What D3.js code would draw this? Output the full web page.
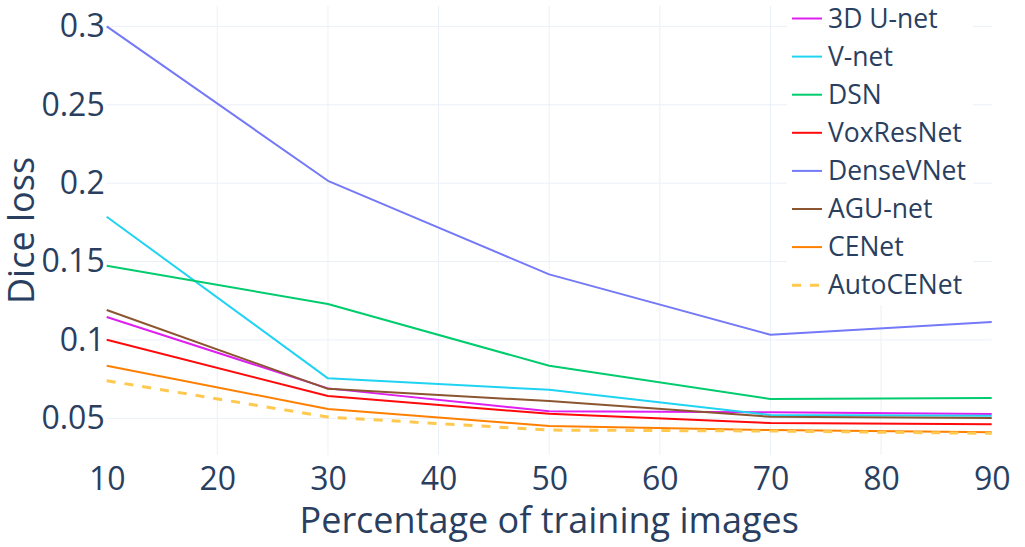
<!DOCTYPE html>
<html>
<head>
<meta charset="utf-8">
<script src="https://cdn.jsdelivr.net/npm/d3@7"></script>
<style>
  html, body { margin: 0; padding: 0; background: #fff; }
  svg { display: block; }
  text { font-family: "Open Sans", sans-serif; fill: #2a3f5f; }
</style>
</head>
<body>
<svg id="chart" width="1025" height="547"></svg>
<script>
// ---- data ----
const xValues = [10, 30, 50, 70, 90];
const seriesNames = ["3D U-net", "V-net", "DSN", "VoxResNet", "DenseVNet", "AGU-net", "CENet", "AutoCENet"];
const unet3d    = [0.1146, 0.0691, 0.0545, 0.0538, 0.0527];
const vnet      = [0.1786, 0.0755, 0.0682, 0.0521, 0.0517];
const dsn       = [0.1473, 0.1229, 0.0835, 0.0623, 0.0630];
const voxresnet = [0.1001, 0.0642, 0.0529, 0.0470, 0.0462];
const densevnet = [0.3000, 0.2015, 0.1418, 0.1033, 0.1114];
const agunet    = [0.1191, 0.0688, 0.0610, 0.0510, 0.0502];
const cenet     = [0.0835, 0.0559, 0.0451, 0.0425, 0.0411];
const autocenet = [0.0740, 0.0508, 0.0425, 0.0419, 0.0404];
const xTicks = [10, 20, 30, 40, 50, 60, 70, 80, 90];
const yTicks = [0.05, 0.1, 0.15, 0.2, 0.25, 0.3];
const yTickLabels = ["0.05", "0.1", "0.15", "0.2", "0.25", "0.3"];

// ---- styles ----
const allSeries = [unet3d, vnet, dsn, voxresnet, densevnet, agunet, cenet, autocenet];
const colors = ["#df1ff0", "#1fd3f2", "#00cc6e", "#ff0a0a", "#7479f7", "#8b5530", "#ff8000", "#ffc84f"];
const widths = [2, 2, 2, 2, 2, 2, 2, 3];
const dashes = [null, null, null, null, null, null, null, "9,9"];

const svg = d3.select("#chart");
const L = 106.7, R = 991.7, T = 6, B = 455;

const x = d3.scaleLinear().domain([10, 90]).range([L, R]);
const y = d3.scaleLinear().domain([0.0266, 0.313]).range([B, T]);

// gridlines
const grid = svg.append("g");
grid.selectAll("line.gx").data(xTicks.filter(d => d > 10 && d < 90)).enter()
  .append("line")
  .attr("x1", d => x(d)).attr("x2", d => x(d))
  .attr("y1", T).attr("y2", B)
  .attr("stroke", "#ebf0f8").attr("stroke-width", 1);
grid.selectAll("line.gy").data(yTicks).enter()
  .append("line")
  .attr("x1", L).attr("x2", R)
  .attr("y1", d => y(d)).attr("y2", d => y(d))
  .attr("stroke", "#ebf0f8").attr("stroke-width", 1);

// axes (tick labels only)
const xAxis = d3.axisBottom(x).tickValues(xTicks).tickSize(0).tickPadding(12).tickFormat(d3.format("d"));
const gx = svg.append("g").attr("transform", `translate(0,${B})`).call(xAxis);
gx.select(".domain").remove();
gx.selectAll("text").style("font-size", "32px").style("fill", "#2a3f5f").style("font-family", "'Open Sans', sans-serif");

const yAxis = d3.axisLeft(y).tickValues(yTicks).tickSize(0).tickPadding(2)
  .tickFormat((d, i) => yTickLabels[i]);
const gy = svg.append("g").attr("transform", `translate(${L},0)`).call(yAxis);
gy.select(".domain").remove();
gy.selectAll("text").style("font-size", "32px").style("fill", "#2a3f5f").style("font-family", "'Open Sans', sans-serif");

// axis titles
svg.append("text")
  .attr("x", (L + R) / 2).attr("y", 533)
  .attr("text-anchor", "middle")
  .style("font-size", "36px")
  .text("Percentage of training images");
svg.append("text")
  .attr("transform", `translate(34,${(T + B) / 2}) rotate(-90)`)
  .attr("text-anchor", "middle")
  .style("font-size", "36px")
  .text("Dice loss");

// lines
const line = d3.line().x((d, i) => x(xValues[i])).y(d => y(d));
const plot = svg.append("g");
allSeries.forEach((s, k) => {
  plot.append("path")
    .datum(s)
    .attr("d", line)
    .attr("fill", "none")
    .attr("stroke", colors[k])
    .attr("stroke-width", widths[k])
    .attr("stroke-dasharray", dashes[k])
    .attr("stroke-linejoin", "round");
});

// legend
const lg = svg.append("g");
lg.append("rect").attr("x", 787).attr("y", 0).attr("width", 186).attr("height", 305).attr("fill", "#fff");
seriesNames.forEach((name, k) => {
  const yy = 18.5 + k * 38.1;
  lg.append("line")
    .attr("x1", 792).attr("x2", 822)
    .attr("y1", yy).attr("y2", yy)
    .attr("stroke", colors[k]).attr("stroke-width", widths[k])
    .attr("stroke-dasharray", dashes[k]);
  lg.append("text")
    .attr("x", 828).attr("y", yy)
    .attr("dy", "0.35em")
    .style("font-size", "26.5px")
    .text(name);
});
</script>
</body>
</html>
